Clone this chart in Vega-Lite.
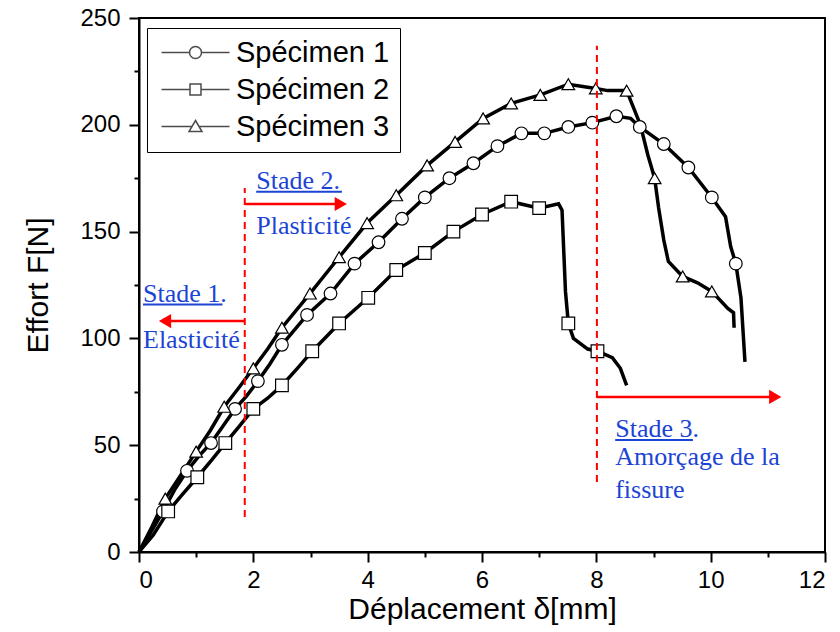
{
  "$schema": "https://vega.github.io/schema/vega-lite/v6.json",
  "width": 686,
  "height": 534,
  "autosize": {"type": "none"},
  "padding": {"left": 139, "top": 18, "right": 15, "bottom": 80},
  "background": "white",
  "config": {
    "view": {"stroke": "black", "strokeWidth": 2},
    "axis": {
      "domainColor": "black", "domainWidth": 2, "tickColor": "black", "tickWidth": 2,
      "labelColor": "black", "labelFont": "Liberation Sans", "labelFontSize": 24,
      "titleFont": "Liberation Sans", "titleFontSize": 30, "titleFontWeight": "normal",
      "titleColor": "black", "grid": false
    }
  },
  "datasets": {
    "curves": [
      {"s": "Spécimen 1", "i": 0, "x": 0, "y": 0, "m": 0},
      {"s": "Spécimen 1", "i": 1, "x": 0.2, "y": 9, "m": 0},
      {"s": "Spécimen 1", "i": 2, "x": 0.42, "y": 19, "m": 1},
      {"s": "Spécimen 1", "i": 3, "x": 0.62, "y": 29, "m": 0},
      {"s": "Spécimen 1", "i": 4, "x": 0.84, "y": 38, "m": 1},
      {"s": "Spécimen 1", "i": 5, "x": 1.05, "y": 45, "m": 0},
      {"s": "Spécimen 1", "i": 6, "x": 1.26, "y": 51, "m": 1},
      {"s": "Spécimen 1", "i": 7, "x": 1.47, "y": 59, "m": 0},
      {"s": "Spécimen 1", "i": 8, "x": 1.68, "y": 67, "m": 1},
      {"s": "Spécimen 1", "i": 9, "x": 1.88, "y": 73, "m": 0},
      {"s": "Spécimen 1", "i": 10, "x": 2.08, "y": 80, "m": 1},
      {"s": "Spécimen 1", "i": 11, "x": 2.29, "y": 88, "m": 0},
      {"s": "Spécimen 1", "i": 12, "x": 2.5, "y": 97, "m": 1},
      {"s": "Spécimen 1", "i": 13, "x": 2.72, "y": 104, "m": 0},
      {"s": "Spécimen 1", "i": 14, "x": 2.94, "y": 111, "m": 1},
      {"s": "Spécimen 1", "i": 15, "x": 3.35, "y": 121, "m": 1},
      {"s": "Spécimen 1", "i": 16, "x": 3.77, "y": 135, "m": 1},
      {"s": "Spécimen 1", "i": 17, "x": 4.19, "y": 145, "m": 1},
      {"s": "Spécimen 1", "i": 18, "x": 4.6, "y": 156, "m": 1},
      {"s": "Spécimen 1", "i": 19, "x": 5.0, "y": 166, "m": 1},
      {"s": "Spécimen 1", "i": 20, "x": 5.43, "y": 175, "m": 1},
      {"s": "Spécimen 1", "i": 21, "x": 5.85, "y": 182, "m": 1},
      {"s": "Spécimen 1", "i": 22, "x": 6.27, "y": 190, "m": 1},
      {"s": "Spécimen 1", "i": 23, "x": 6.69, "y": 196, "m": 1},
      {"s": "Spécimen 1", "i": 24, "x": 7.09, "y": 196, "m": 1},
      {"s": "Spécimen 1", "i": 25, "x": 7.51, "y": 199, "m": 1},
      {"s": "Spécimen 1", "i": 26, "x": 7.93, "y": 201, "m": 1},
      {"s": "Spécimen 1", "i": 27, "x": 8.35, "y": 204, "m": 1},
      {"s": "Spécimen 1", "i": 28, "x": 8.6, "y": 203, "m": 0},
      {"s": "Spécimen 1", "i": 29, "x": 8.76, "y": 199, "m": 1},
      {"s": "Spécimen 1", "i": 30, "x": 9.18, "y": 191, "m": 1},
      {"s": "Spécimen 1", "i": 31, "x": 9.61, "y": 180, "m": 1},
      {"s": "Spécimen 1", "i": 32, "x": 10.02, "y": 166, "m": 1},
      {"s": "Spécimen 1", "i": 33, "x": 10.26, "y": 157, "m": 0},
      {"s": "Spécimen 1", "i": 34, "x": 10.35, "y": 143, "m": 0},
      {"s": "Spécimen 1", "i": 35, "x": 10.44, "y": 135, "m": 1},
      {"s": "Spécimen 1", "i": 36, "x": 10.53, "y": 119, "m": 0},
      {"s": "Spécimen 1", "i": 37, "x": 10.6, "y": 89, "m": 0},

      {"s": "Spécimen 2", "i": 0, "x": 0, "y": 0, "m": 0},
      {"s": "Spécimen 2", "i": 1, "x": 0.25, "y": 8, "m": 0},
      {"s": "Spécimen 2", "i": 2, "x": 0.51, "y": 19, "m": 1},
      {"s": "Spécimen 2", "i": 3, "x": 0.76, "y": 27, "m": 0},
      {"s": "Spécimen 2", "i": 4, "x": 1.02, "y": 35, "m": 1},
      {"s": "Spécimen 2", "i": 5, "x": 1.27, "y": 43, "m": 0},
      {"s": "Spécimen 2", "i": 6, "x": 1.51, "y": 51, "m": 1},
      {"s": "Spécimen 2", "i": 7, "x": 1.76, "y": 59, "m": 0},
      {"s": "Spécimen 2", "i": 8, "x": 2.0, "y": 67, "m": 1},
      {"s": "Spécimen 2", "i": 9, "x": 2.25, "y": 72, "m": 0},
      {"s": "Spécimen 2", "i": 10, "x": 2.5, "y": 78, "m": 1},
      {"s": "Spécimen 2", "i": 11, "x": 2.77, "y": 86, "m": 0},
      {"s": "Spécimen 2", "i": 12, "x": 3.03, "y": 94, "m": 1},
      {"s": "Spécimen 2", "i": 13, "x": 3.5, "y": 107, "m": 1},
      {"s": "Spécimen 2", "i": 14, "x": 4.01, "y": 119, "m": 1},
      {"s": "Spécimen 2", "i": 15, "x": 4.5, "y": 132, "m": 1},
      {"s": "Spécimen 2", "i": 16, "x": 5.0, "y": 140, "m": 1},
      {"s": "Spécimen 2", "i": 17, "x": 5.5, "y": 150, "m": 1},
      {"s": "Spécimen 2", "i": 18, "x": 6.0, "y": 158, "m": 1},
      {"s": "Spécimen 2", "i": 19, "x": 6.51, "y": 164, "m": 1},
      {"s": "Spécimen 2", "i": 20, "x": 7.0, "y": 161, "m": 1},
      {"s": "Spécimen 2", "i": 21, "x": 7.34, "y": 163, "m": 0},
      {"s": "Spécimen 2", "i": 22, "x": 7.4, "y": 160, "m": 0},
      {"s": "Spécimen 2", "i": 23, "x": 7.46, "y": 122, "m": 0},
      {"s": "Spécimen 2", "i": 24, "x": 7.51, "y": 107, "m": 1},
      {"s": "Spécimen 2", "i": 25, "x": 7.6, "y": 100, "m": 0},
      {"s": "Spécimen 2", "i": 26, "x": 7.85, "y": 95, "m": 0},
      {"s": "Spécimen 2", "i": 27, "x": 8.02, "y": 94, "m": 1},
      {"s": "Spécimen 2", "i": 28, "x": 8.28, "y": 91, "m": 0},
      {"s": "Spécimen 2", "i": 29, "x": 8.42, "y": 86, "m": 0},
      {"s": "Spécimen 2", "i": 30, "x": 8.53, "y": 78, "m": 0},

      {"s": "Spécimen 3", "i": 0, "x": 0, "y": 0, "m": 0},
      {"s": "Spécimen 3", "i": 1, "x": 0.23, "y": 12, "m": 0},
      {"s": "Spécimen 3", "i": 2, "x": 0.46, "y": 25, "m": 1},
      {"s": "Spécimen 3", "i": 3, "x": 0.73, "y": 36, "m": 0},
      {"s": "Spécimen 3", "i": 4, "x": 1.0, "y": 47, "m": 1},
      {"s": "Spécimen 3", "i": 5, "x": 1.25, "y": 57, "m": 0},
      {"s": "Spécimen 3", "i": 6, "x": 1.49, "y": 68, "m": 1},
      {"s": "Spécimen 3", "i": 7, "x": 1.75, "y": 77, "m": 0},
      {"s": "Spécimen 3", "i": 8, "x": 2.0, "y": 86, "m": 1},
      {"s": "Spécimen 3", "i": 9, "x": 2.25, "y": 95, "m": 0},
      {"s": "Spécimen 3", "i": 10, "x": 2.5, "y": 105, "m": 1},
      {"s": "Spécimen 3", "i": 11, "x": 2.99, "y": 121, "m": 1},
      {"s": "Spécimen 3", "i": 12, "x": 3.5, "y": 138, "m": 1},
      {"s": "Spécimen 3", "i": 13, "x": 3.99, "y": 154, "m": 1},
      {"s": "Spécimen 3", "i": 14, "x": 4.5, "y": 167, "m": 1},
      {"s": "Spécimen 3", "i": 15, "x": 5.04, "y": 181, "m": 1},
      {"s": "Spécimen 3", "i": 16, "x": 5.53, "y": 192, "m": 1},
      {"s": "Spécimen 3", "i": 17, "x": 6.02, "y": 203, "m": 1},
      {"s": "Spécimen 3", "i": 18, "x": 6.51, "y": 210, "m": 1},
      {"s": "Spécimen 3", "i": 19, "x": 7.02, "y": 214, "m": 1},
      {"s": "Spécimen 3", "i": 20, "x": 7.51, "y": 219, "m": 1},
      {"s": "Spécimen 3", "i": 21, "x": 7.99, "y": 217, "m": 1},
      {"s": "Spécimen 3", "i": 22, "x": 8.2, "y": 216, "m": 0},
      {"s": "Spécimen 3", "i": 23, "x": 8.53, "y": 216, "m": 1},
      {"s": "Spécimen 3", "i": 24, "x": 8.65, "y": 208, "m": 0},
      {"s": "Spécimen 3", "i": 25, "x": 8.77, "y": 200, "m": 0},
      {"s": "Spécimen 3", "i": 26, "x": 8.9, "y": 186, "m": 0},
      {"s": "Spécimen 3", "i": 27, "x": 9.02, "y": 175, "m": 1},
      {"s": "Spécimen 3", "i": 28, "x": 9.09, "y": 161, "m": 0},
      {"s": "Spécimen 3", "i": 29, "x": 9.18, "y": 146, "m": 0},
      {"s": "Spécimen 3", "i": 30, "x": 9.26, "y": 136, "m": 0},
      {"s": "Spécimen 3", "i": 31, "x": 9.51, "y": 129, "m": 1},
      {"s": "Spécimen 3", "i": 32, "x": 9.77, "y": 126, "m": 0},
      {"s": "Spécimen 3", "i": 33, "x": 10.02, "y": 122, "m": 1},
      {"s": "Spécimen 3", "i": 34, "x": 10.3, "y": 114, "m": 0},
      {"s": "Spécimen 3", "i": 35, "x": 10.4, "y": 112, "m": 0},
      {"s": "Spécimen 3", "i": 36, "x": 10.41, "y": 105, "m": 0}
    ],
    "vlines": [
      {"x": 1.85, "y": 16.4, "y2": 170.4},
      {"x": 8.01, "y": 32.8, "y2": 237}
    ],
    "arrows": [
      {"x": 1.85, "x2": 0.46, "y": 108.1, "hx": 0.455, "dir": "left"},
      {"x": 1.85, "x2": 3.52, "y": 162.9, "hx": 3.53, "dir": "right"},
      {"x": 8.01, "x2": 11.12, "y": 72.6, "hx": 11.13, "dir": "right"}
    ],
    "underlines": [
      {"x": 0.07, "x2": 1.46, "y": 115.9},
      {"x": 2.05, "x2": 3.55, "y": 168.7},
      {"x": 8.33, "x2": 9.69, "y": 52.4}
    ],
    "labels": [
      {"x": 0.07, "y": 117.2, "t": "Stade 1."},
      {"x": 0.07, "y": 95.6, "t": "Elasticité"},
      {"x": 2.05, "y": 169.8, "t": "Stade 2."},
      {"x": 2.05, "y": 148.9, "t": "Plasticité"},
      {"x": 8.33, "y": 54.0, "t": "Stade 3."},
      {"x": 8.33, "y": 40.7, "t": "Amorçage de la"},
      {"x": 8.33, "y": 25.5, "t": "fissure"}
    ]
  },
  "layer": [
    {
      "data": {"name": "curves"},
      "mark": {"type": "line", "color": "black", "strokeWidth": 3.5},
      "encoding": {
        "x": {"field": "x", "type": "quantitative", "scale": {"domain": [0, 12], "nice": false, "zero": false},
              "axis": {"orient": "bottom", "values": [0, 2, 4, 6, 8, 10, 12], "tickSize": 10, "labelPadding": 6, "title": "Déplacement δ[mm]", "titlePadding": 2}},
        "y": {"field": "y", "type": "quantitative", "scale": {"domain": [0, 250], "nice": false, "zero": false},
              "axis": {"orient": "left", "values": [0, 50, 100, 150, 200, 250], "tickSize": 10, "labelPadding": 9, "title": "Effort F[N]", "titlePadding": 26}},
        "detail": {"field": "s"},
        "order": {"field": "i"}
      }
    },
    {
      "data": {"name": "curves"},
      "transform": [{"filter": "datum.m == 1"}],
      "mark": {"type": "point", "filled": true, "fill": "white", "stroke": "black", "strokeWidth": 1.2, "size": 160, "opacity": 1},
      "encoding": {
        "x": {"field": "x", "type": "quantitative", "scale": {"domain": [0, 12], "nice": false, "zero": false},
              "axis": {"orient": "bottom", "values": [1, 3, 5, 7, 9, 11], "tickSize": 5, "labels": false, "domain": false, "title": null}},
        "y": {"field": "y", "type": "quantitative", "scale": {"domain": [0, 250], "nice": false, "zero": false},
              "axis": {"orient": "left", "values": [25, 75, 125, 175, 225], "tickSize": 5, "labels": false, "domain": false, "title": null}},
        "shape": {"field": "s", "type": "nominal", "scale": {"domain": ["Spécimen 1", "Spécimen 2", "Spécimen 3"], "range": ["circle", "square", "triangle-up"]}, "legend": null}
      }
    },
    {
      "data": {"name": "curves"},
      "transform": [{"filter": "datum.m == 1 && datum.x < 0"}],
      "mark": {"type": "point", "filled": true, "fill": "white", "stroke": "black", "strokeWidth": 2, "size": 400},
      "encoding": {
        "x": {"field": "x", "type": "quantitative", "scale": {"domain": [0, 12]}, "axis": null},
        "y": {"field": "y", "type": "quantitative", "scale": {"domain": [0, 250]}, "axis": null},
        "shape": {"field": "s", "type": "nominal",
          "scale": {"domain": ["Spécimen 1", "Spécimen 2", "Spécimen 3"],
                    "range": [
                      "M-1,0L1.8,0M3,0L5.8,0M3,0A0.6,0.6 0 1,1 1.8,0A0.6,0.6 0 1,1 3,0Z",
                      "M-1,0L1.85,0M2.95,0L5.8,0M1.85,-0.55L2.95,-0.55L2.95,0.55L1.85,0.55Z",
                      "M-1,0L2.045,0M2.755,0L5.8,0M2.4,-0.6L3.05,0.5L1.75,0.5Z"
                    ]},
          "legend": {"orient": "none", "legendX": 8, "legendY": 10, "title": null,
                     "strokeColor": "black", "padding": 10, "rowPadding": 7,
                     "labelFont": "Liberation Sans", "labelFontSize": 29, "labelColor": "black",
                     "labelOffset": 50, "symbolSize": 400,
                     "encode": {"symbols": {"update": {
                       "stroke": {"value": "black"}, "fill": {"value": "white"},
                       "strokeWidth": {"value": 2}, "opacity": {"value": 1},
                       "fillOpacity": {"value": 1}, "strokeOpacity": {"value": 1}}}}}}
      }
    },
    {
      "data": {"name": "vlines"},
      "mark": {"type": "rule", "color": "#ff0000", "strokeWidth": 2, "strokeDash": [7, 5]},
      "encoding": {
        "x": {"field": "x", "type": "quantitative", "scale": {"domain": [0, 12]}, "axis": null},
        "y": {"field": "y", "type": "quantitative", "scale": {"domain": [0, 250]}, "axis": null},
        "y2": {"field": "y2"}
      }
    },
    {
      "data": {"name": "arrows"},
      "mark": {"type": "rule", "color": "#ff0000", "strokeWidth": 2.5},
      "encoding": {
        "x": {"field": "x", "type": "quantitative", "scale": {"domain": [0, 12]}, "axis": null},
        "x2": {"field": "x2"},
        "y": {"field": "y", "type": "quantitative", "scale": {"domain": [0, 250]}, "axis": null}
      }
    },
    {
      "data": {"name": "arrows"},
      "mark": {"type": "point", "filled": true, "color": "#ff0000", "size": 200, "opacity": 1},
      "encoding": {
        "x": {"field": "hx", "type": "quantitative", "scale": {"domain": [0, 12]}, "axis": null},
        "y": {"field": "y", "type": "quantitative", "scale": {"domain": [0, 250]}, "axis": null},
        "shape": {"field": "dir", "type": "nominal", "scale": {"domain": ["left", "right"], "range": ["triangle-left", "triangle-right"]}, "legend": null}
      }
    },
    {
      "data": {"name": "underlines"},
      "mark": {"type": "rule", "color": "#1b44d4", "strokeWidth": 2},
      "encoding": {
        "x": {"field": "x", "type": "quantitative", "scale": {"domain": [0, 12]}, "axis": null},
        "x2": {"field": "x2"},
        "y": {"field": "y", "type": "quantitative", "scale": {"domain": [0, 250]}, "axis": null}
      }
    },
    {
      "data": {"name": "labels"},
      "mark": {"type": "text", "align": "left", "baseline": "alphabetic", "font": "Liberation Serif", "fontSize": 26, "color": "#1b44d4"},
      "encoding": {
        "x": {"field": "x", "type": "quantitative", "scale": {"domain": [0, 12]}, "axis": null},
        "y": {"field": "y", "type": "quantitative", "scale": {"domain": [0, 250]}, "axis": null},
        "text": {"field": "t"}
      }
    }
  ],
  "resolve": {"scale": {"shape": "independent"}, "axis": {"x": "independent", "y": "independent"}}
}
